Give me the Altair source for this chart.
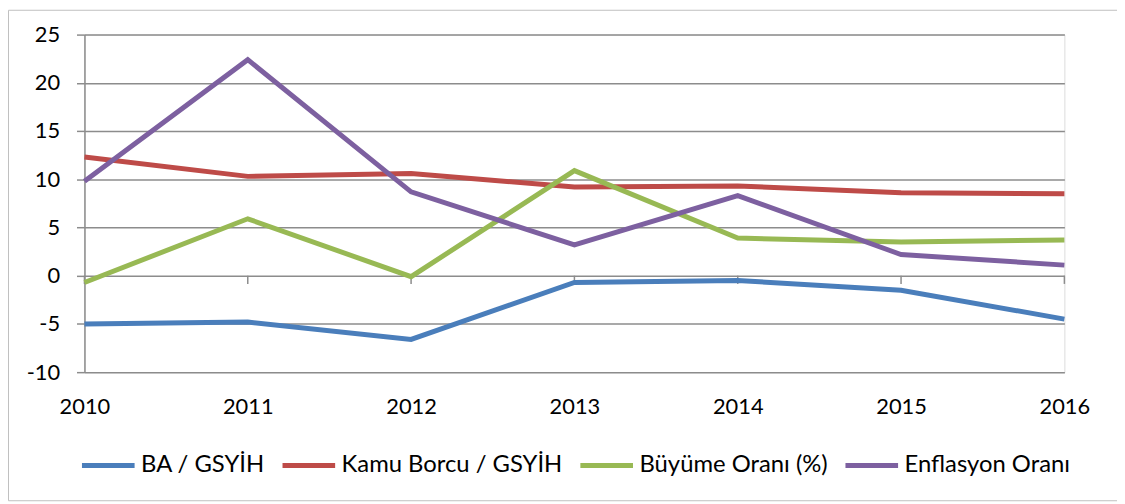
import altair as alt
import pandas as pd

years = [2010, 2011, 2012, 2013, 2014, 2015, 2016]
series_names = ["BA / GSYİH", "Kamu Borcu / GSYİH", "Büyüme Oranı (%)", "Enflasyon Oranı"]
ba_gsyih = [-5.0, -4.8, -6.6, -0.7, -0.5, -1.5, -4.5]
kamu_borcu = [12.3, 10.3, 10.6, 9.2, 9.3, 8.6, 8.5]
buyume = [-0.7, 5.9, -0.1, 10.9, 3.9, 3.5, 3.7]
enflasyon = [9.8, 22.4, 8.7, 3.2, 8.3, 2.2, 1.1]
colors = ["#4a7ebb", "#be4b48", "#98b954", "#7d60a0"]
y_ticks = [-10, -5, 0, 5, 10, 15, 20, 25]

rows = []
for name, vals in zip(series_names, [ba_gsyih, kamu_borcu, buyume, enflasyon]):
    for yr, v in zip(years, vals):
        rows.append({"Yıl": yr, "Değer": v, "Seri": name})
df = pd.DataFrame(rows)
tick_df = pd.DataFrame({"Yıl": years})
border_df = pd.DataFrame({"k": [0]})

FONT = "Lato"
GRID = "#8c8c8c"

x_enc = alt.X("Yıl:Q", scale=alt.Scale(domain=[2010, 2016], nice=False, zero=False),
              axis=alt.Axis(values=years, format="d", title=None, grid=False, domain=False,
                            ticks=False, labelPadding=25, labelFontSize=22, labelFont=FONT,
                            labelColor="black", labelFlush=False))
y_enc = alt.Y("Değer:Q", scale=alt.Scale(domain=[-10, 25], nice=False, zero=False),
              axis=alt.Axis(values=y_ticks, title=None, grid=True, gridColor=GRID, gridWidth=1.5,
                            domain=True, domainColor=GRID, domainWidth=1.5, ticks=True,
                            tickColor=GRID, tickWidth=1.5, tickSize=8, labelPadding=17,
                            labelFontSize=22, labelFont=FONT, labelColor="black",
                            labelExpr="toString(datum.value)"))

border = alt.Chart(border_df).mark_rect(filled=False, stroke="#c0c0c0", strokeWidth=1).encode(
    x=alt.value(-76.5), x2=alt.value(1200), y=alt.value(-24.5), y2=alt.value(469.5)
)

ticks = alt.Chart(tick_df).mark_rule(color=GRID, strokeWidth=1.5).encode(
    x=alt.X("Yıl:Q"), y=alt.datum(0), y2=alt.datum(-0.85)
)

lines = alt.Chart(df).mark_line(strokeWidth=5, strokeJoin="miter").encode(
    x=x_enc,
    y=y_enc,
    color=alt.Color("Seri:N", scale=alt.Scale(domain=series_names, range=colors),
                    legend=alt.Legend(title=None, orient="none", direction="horizontal",
                                      legendX=-5, legendY=405, symbolType="stroke",
                                      symbolSize=2809, symbolStrokeWidth=5,
                                      labelFont=FONT, labelFontSize=24, labelColor="black",
                                      labelLimit=0, columnPadding=7, labelOffset=4, columns=4)),
    order=alt.Order("Yıl:Q"),
)

chart = alt.layer(border, ticks, lines).properties(
    width=987, height=340,
    autosize=alt.AutoSizeParams(type="none"),
    padding={"left": 77, "top": 25, "right": 53, "bottom": 131},
).configure_view(stroke=None).configure(background="white")

chart.save("out.html", embed_options={"renderer": "svg", "actions": False})
